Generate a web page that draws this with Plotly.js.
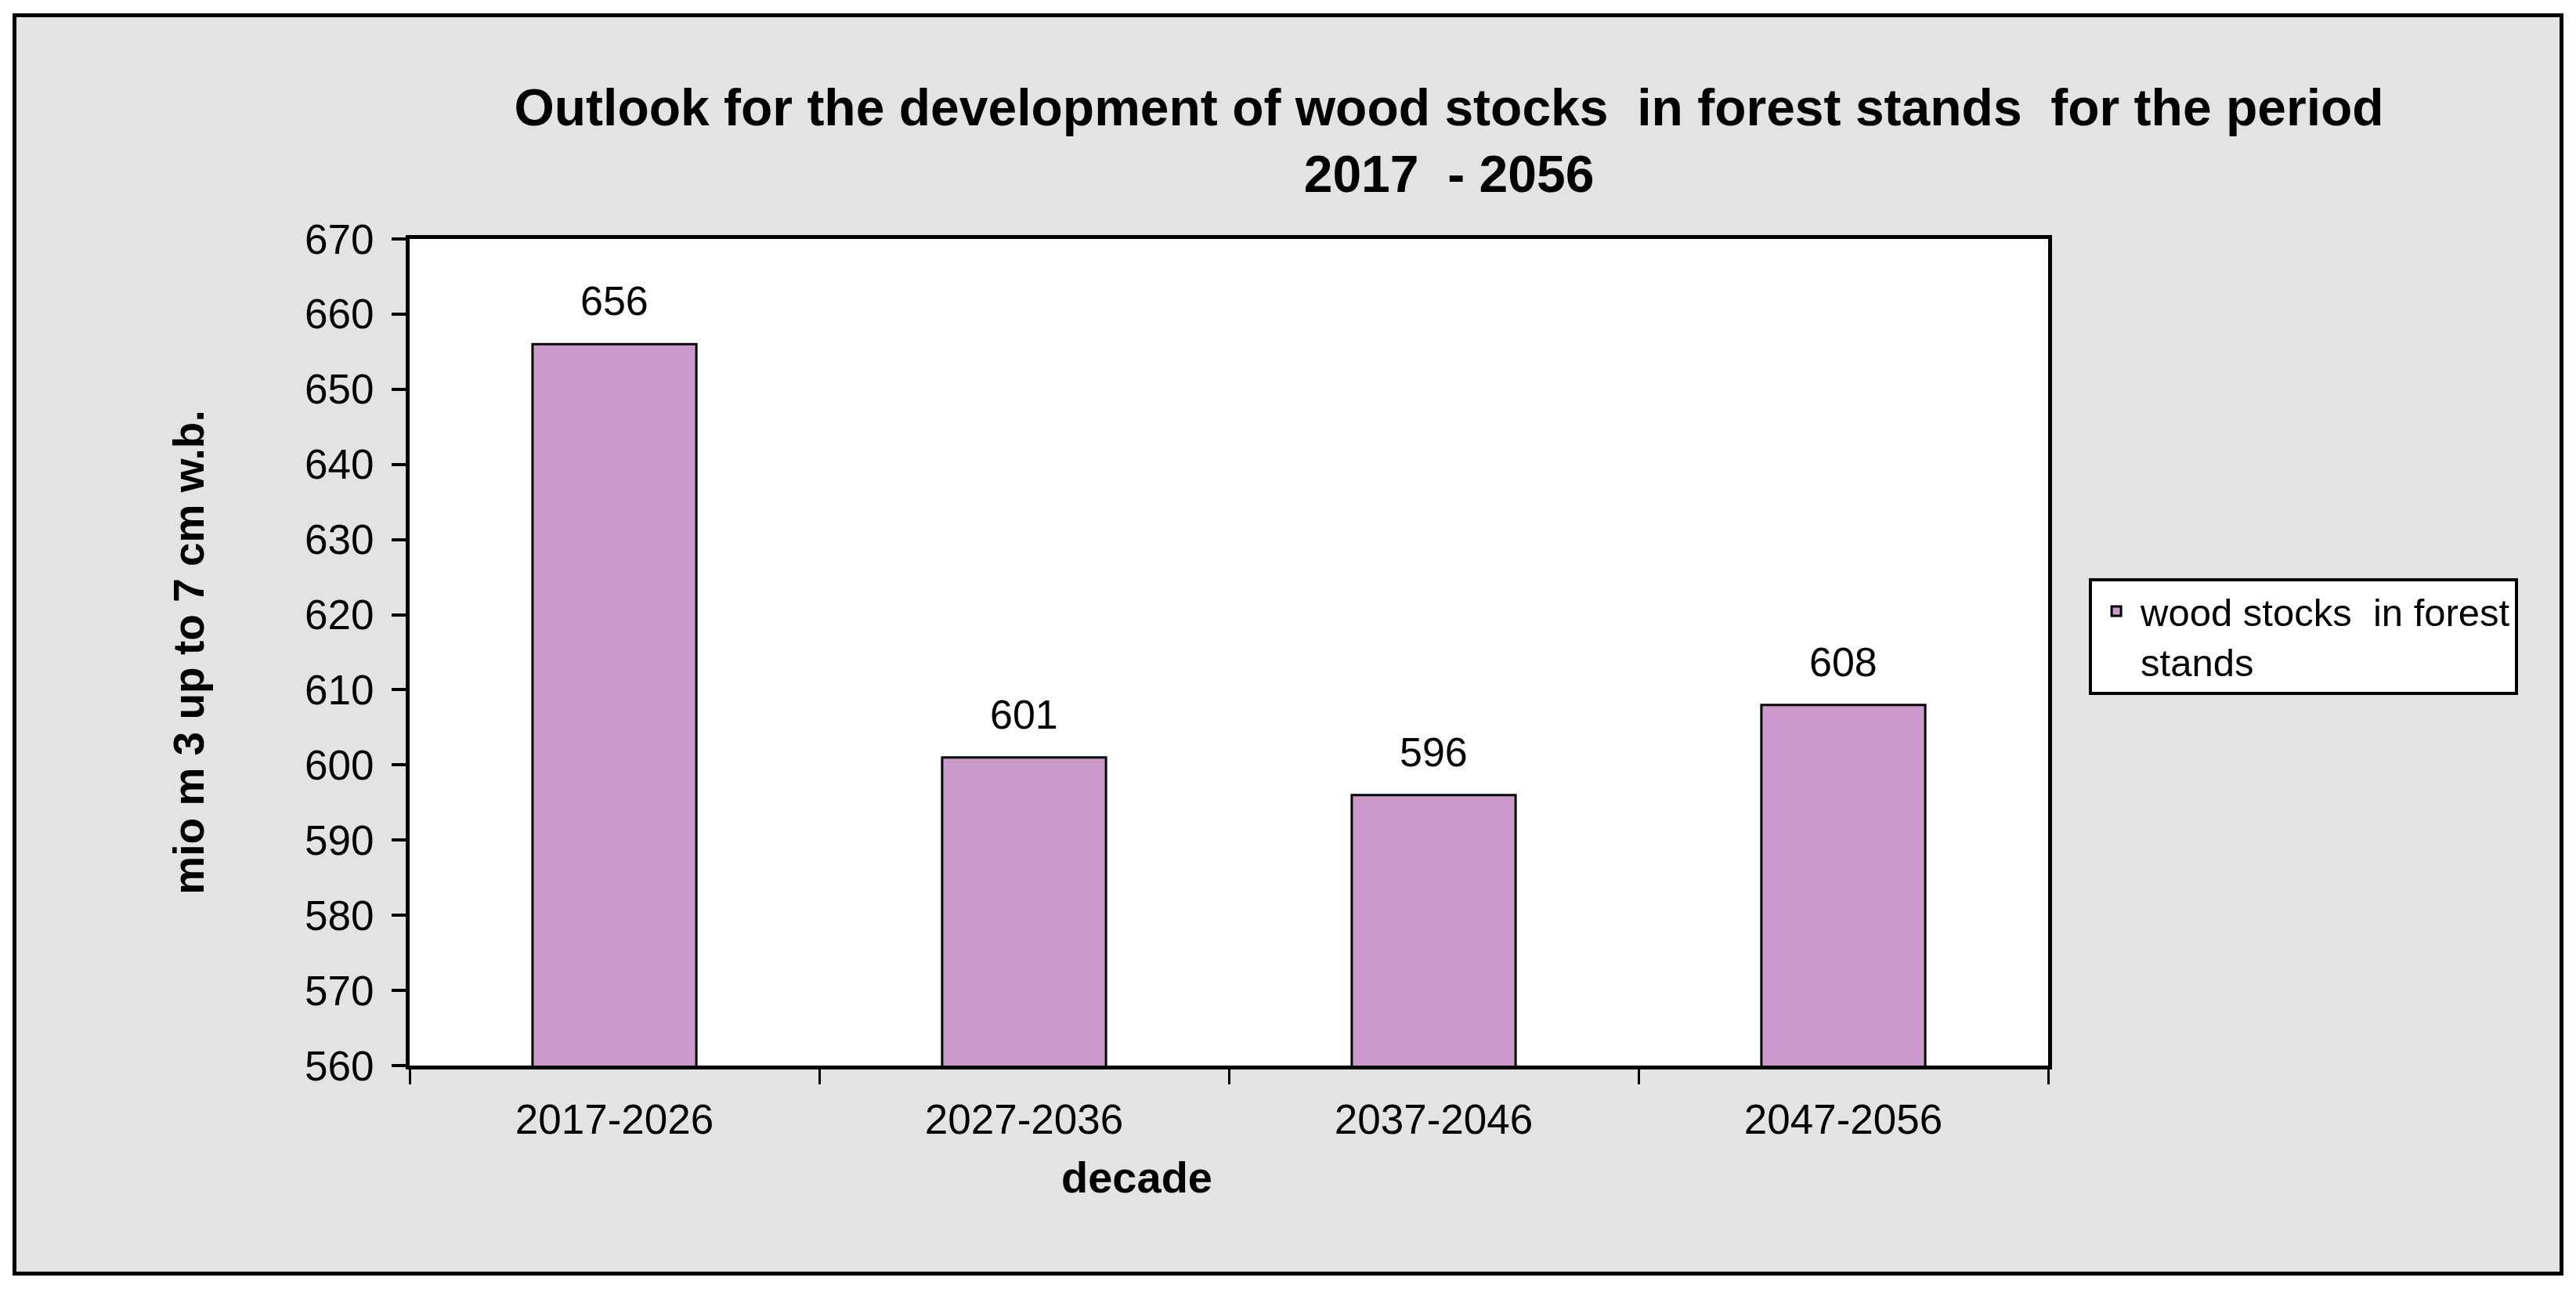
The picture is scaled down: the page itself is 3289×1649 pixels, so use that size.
<!DOCTYPE html>
<html>
<head>
<meta charset="utf-8">
<script src="https://cdn.plot.ly/plotly-3.0.1.min.js"></script>
<style>
  html, body { margin: 0; padding: 0; background: #ffffff; width: 3289px; height: 1649px; overflow: hidden; }
  #frame { position: absolute; left: 16px; top: 17px; width: 3247px; height: 1601px; border: 5px solid #000000; background: #e3e3e3; }
  #chart { width: 3247px; height: 1601px; }
</style>
</head>
<body>
<div id="frame"><div id="chart"></div></div>
<script>
// ---- data ----
const decades = ["2017-2026", "2027-2036", "2037-2046", "2047-2056"];
const woodStocks = [656, 601, 596, 608];
const dataLabels = ["656", "601", "596", "608"];
const seriesName = "wood stocks  in forest<br>stands";
const yTickValues = [560, 570, 580, 590, 600, 610, 620, 630, 640, 650, 660, 670];
const chartTitle = "Outlook for the development of wood stocks  in forest stands  for the period<br>2017  - 2056";
const yTitle = "mio m 3 up to 7 cm w.b.";
const xTitle = "decade";

const trace = {
  type: "bar",
  x: decades,
  y: woodStocks,
  name: seriesName,
  width: 0.4,
  marker: { color: "#cc99cc", line: { color: "#000000", width: 3 } },
  showlegend: true,
  hoverinfo: "x+y"
};

const annotations = decades.map((d, i) => ({
  x: d, y: woodStocks[i], xref: "x", yref: "y",
  text: dataLabels[i], showarrow: false,
  yanchor: "bottom", yshift: 24,
  font: { family: "Liberation Sans, Arial, sans-serif", size: 52, color: "#000000" }
}));
annotations.push({
  x: 0.4436, y: -0.1346, xref: "paper", yref: "paper",
  text: "<b>" + xTitle + "</b>", showarrow: false,
  xanchor: "center", yanchor: "middle",
  font: { family: "Liberation Sans, Arial, sans-serif", size: 56, color: "#000000" }
});

const layout = {
  width: 3247, height: 1601,
  margin: { l: 502, r: 653, t: 283, b: 263, pad: 0 },
  paper_bgcolor: "#e3e3e3",
  plot_bgcolor: "#ffffff",
  title: {
    text: "<b>" + chartTitle + "</b>",
    x: 0.5633, xref: "container", xanchor: "center",
    y: 0.914, yref: "container", yanchor: "top",
    font: { family: "Liberation Sans, Arial, sans-serif", size: 66, color: "#000000" }
  },
  xaxis: {
    type: "category",
    tickson: "boundaries",
    ticks: "outside", ticklen: 19, tickwidth: 3, tickcolor: "#000000",
    showline: true, linecolor: "#000000", linewidth: 5, mirror: true,
    showgrid: false, zeroline: false,
    ticklabelstandoff: 18,
    tickfont: { family: "Liberation Sans, Arial, sans-serif", size: 53, color: "#000000" }
  },
  yaxis: {
    range: [560, 670],
    tickmode: "array", tickvals: yTickValues,
    ticks: "outside", ticklen: 18, tickwidth: 4, tickcolor: "#000000",
    showline: true, linecolor: "#000000", linewidth: 5, mirror: true,
    showgrid: false, zeroline: false,
    ticklabelstandoff: 12,
    tickfont: { family: "Liberation Sans, Arial, sans-serif", size: 53, color: "#000000" },
    title: {
      text: "<b>" + yTitle + "</b>",
      standoff: 112,
      font: { family: "Liberation Sans, Arial, sans-serif", size: 55, color: "#000000" }
    }
  },
  legend: {
    x: 1.0249, y: 0.590, xanchor: "left", yanchor: "top",
    bgcolor: "#ffffff", bordercolor: "#000000", borderwidth: 4,
    valign: "top",
    itemwidth: 52,
    font: { family: "Liberation Sans, Arial, sans-serif", size: 49, color: "#000000" }
  },
  annotations: annotations,
  bargap: 0.6
};

Plotly.newPlot("chart", [trace], layout, { displayModeBar: false, staticPlot: true });
</script>
</body>
</html>
